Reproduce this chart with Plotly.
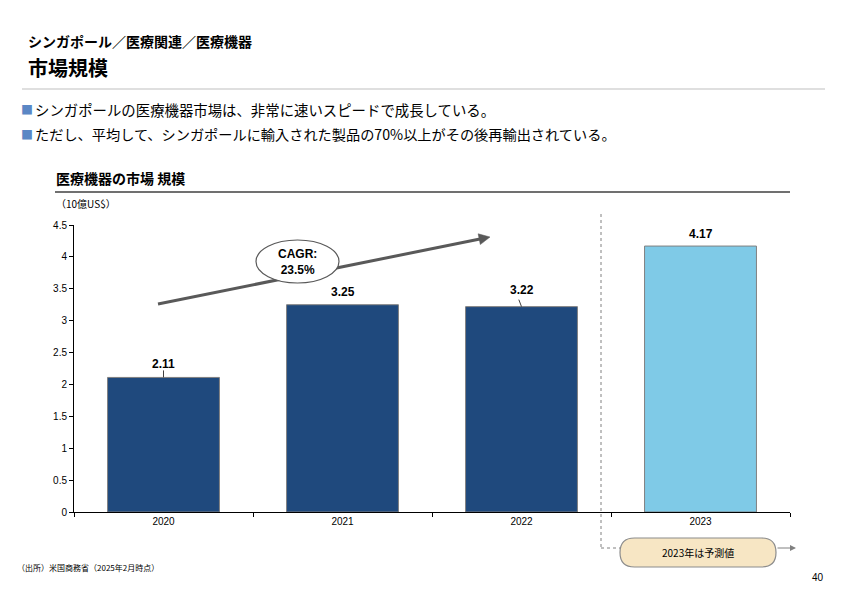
import math
import plotly.graph_objects as go

years = ["2020", "2021", "2022", "2023"]
values = [2.11, 3.25, 3.22, 4.17]
bar_colors = ["#1F497D", "#1F497D", "#1F497D", "#7FCAE7"]
y_ticks = [0, 0.5, 1, 1.5, 2, 2.5, 3, 3.5, 4, 4.5]
cagr_text = "CAGR:<br>23.5%"

W, H = 842, 595
L, R, T, B = 74, 790, 225, 512
FONT = "Liberation Sans, Arial, Noto Sans CJK JP, sans-serif"
JFONT = "Noto Sans CJK JP, Liberation Sans, sans-serif"


def px(x):
    return (x - L) / (R - L)


def py(y):
    return (B - y) / (B - T)


fig = go.Figure()
fig.add_trace(go.Bar(
    x=years, y=values,
    marker=dict(color=bar_colors, line=dict(color="#808080", width=1)),
    width=0.625, hoverinfo="skip",
))

shapes = []
annotations = []

# value labels with short leader lines (x given as category index)
label_shift = [4, 4, 8, 3]
for i, v in enumerate(values):
    annotations.append(dict(
        x=i, y=v, xref="x", yref="y", text=f"<b>{v:.2f}</b>", showarrow=False,
        xanchor="center", yanchor="bottom", yshift=label_shift[i],
        font=dict(family=FONT, size=12, color="black"),
    ))
for i in (0, 2):
    shapes.append(dict(
        type="line", xref="x", yref="y",
        x0=i, y0=values[i], x1=i - (0.015 if i == 2 else 0), y1=values[i] + 0.11,
        line=dict(color="#404040", width=1),
    ))

# header texts
hdr = [
    dict(x=px(26), y=py(41), text="<b>シンガポール／医療関連／医療機器</b>", font=dict(family=JFONT, size=14, color="black")),
    dict(x=px(26), y=py(67), text="<b>市場規模</b>", font=dict(family=JFONT, size=20, color="black")),
    dict(x=px(19), y=py(110), text="■", font=dict(family=JFONT, size=12, color="#5B87C5")),
    dict(x=px(33), y=py(110), text="シンガポールの医療機器市場は、非常に速いスピードで成長している。", font=dict(family=JFONT, size=14.4, color="black")),
    dict(x=px(19), y=py(134), text="■", font=dict(family=JFONT, size=12, color="#5B87C5")),
    dict(x=px(33), y=py(134), text="ただし、平均して、シンガポールに輸入された製品の70%以上がその後再輸出されている。", font=dict(family=JFONT, size=14.2, color="black")),
    dict(x=px(54), y=py(178), text="<b>医療機器の市場 規模</b>", font=dict(family=JFONT, size=14, color="black")),
    dict(x=px(54), y=py(203), text="（10億US$）", font=dict(family=JFONT, size=10, color="black")),
    dict(x=px(15), y=py(567), text="（出所）米国商務省（2025年2月時点）", font=dict(family=JFONT, size=8, color="black")),
]
for a in hdr:
    a.update(xref="paper", yref="paper", xanchor="left", yanchor="middle", showarrow=False)
annotations += hdr
annotations.append(dict(x=px(826), y=py(577), xref="paper", yref="paper", text="40", showarrow=False,
                        xanchor="right", yanchor="middle", font=dict(family=FONT, size=10, color="black")))

# header rules
shapes.append(dict(type="line", xref="paper", yref="paper", x0=px(22), x1=px(825), y0=py(89), y1=py(89),
                   line=dict(color="#BFBFBF", width=1)))
shapes.append(dict(type="line", xref="paper", yref="paper", x0=px(55), x1=px(790), y0=py(192), y1=py(192),
                   line=dict(color="#404040", width=1.5)))

# CAGR arrow (shaft + head as shapes so the ellipse can sit on top)
sx, sy, tx, ty = 158, 304, 490, 237
dx, dy = tx - sx, ty - sy
ln = math.hypot(dx, dy)
ux, uy = dx / ln, dy / ln
nx, ny = -uy, ux
hl, hw = 11, 5.5
bx, by = tx - hl * ux, ty - hl * uy
shapes.append(dict(type="line", xref="paper", yref="paper", x0=px(sx), y0=py(sy), x1=px(bx + 2 * ux), y1=py(by + 2 * uy),
                   line=dict(color="#595959", width=3)))
shapes.append(dict(type="path", xref="paper", yref="paper",
                   path=f"M {px(tx)},{py(ty)} L {px(bx + hw * nx)},{py(by + hw * ny)} L {px(bx - hw * nx)},{py(by - hw * ny)} Z",
                   fillcolor="#595959", line=dict(color="#595959", width=0.5)))
shapes.append(dict(type="circle", xref="paper", yref="paper", x0=px(256), x1=px(339), y0=py(283), y1=py(240),
                   fillcolor="white", line=dict(color="#595959", width=1.2)))
annotations.append(dict(x=px(297.5), y=py(261.5), xref="paper", yref="paper", text=f"<b>{cagr_text}</b>",
                        showarrow=False, xanchor="center", yanchor="middle",
                        font=dict(family=FONT, size=12, color="black")))

# forecast separator
shapes.append(dict(type="line", xref="paper", yref="paper", x0=px(601), x1=px(601), y0=py(214), y1=py(548),
                   line=dict(color="#808080", width=1, dash="dot")))
shapes.append(dict(type="line", xref="paper", yref="paper", x0=px(601), x1=px(621), y0=py(548), y1=py(548),
                   line=dict(color="#808080", width=1, dash="dot")))
annotations.append(dict(x=px(796), y=py(548), xref="paper", yref="paper", ax=776 - 796, ay=0,
                        axref="pixel", ayref="pixel", text="", showarrow=True, arrowhead=2,
                        arrowsize=1.2, arrowwidth=1, arrowcolor="#808080"))

# pill box
x0, x1, y0, y1, r = 620, 776, 538, 567, 14.5
pts = [
    f"M {px(x0 + r)},{py(y0)}",
    f"L {px(x1 - r)},{py(y0)}",
    f"Q {px(x1)},{py(y0)} {px(x1)},{py((y0 + y1) / 2)}",
    f"Q {px(x1)},{py(y1)} {px(x1 - r)},{py(y1)}",
    f"L {px(x0 + r)},{py(y1)}",
    f"Q {px(x0)},{py(y1)} {px(x0)},{py((y0 + y1) / 2)}",
    f"Q {px(x0)},{py(y0)} {px(x0 + r)},{py(y0)} Z",
]
shapes.append(dict(type="path", xref="paper", yref="paper", path=" ".join(pts),
                   fillcolor="#F7E6C4", line=dict(color="#8C8C8C", width=1.2)))
annotations.append(dict(x=px(698), y=py(552), xref="paper", yref="paper", text="2023年は予測値",
                        showarrow=False, xanchor="center", yanchor="middle",
                        font=dict(family=JFONT, size=10, color="black")))

fig.update_layout(
    width=W, height=H,
    margin=dict(l=L, r=W - R, t=T, b=H - B, autoexpand=False),
    plot_bgcolor="white", paper_bgcolor="white",
    showlegend=False,
    shapes=shapes, annotations=annotations,
    xaxis=dict(type="category", categoryorder="array", categoryarray=years, range=[-0.5, len(years) - 0.5],
               showline=True, linecolor="black", linewidth=1, ticks="outside",
               tickson="boundaries", ticklen=4, tickcolor="black", tickangle=0, automargin=False,
               tickfont=dict(family=FONT, size=10, color="black"),
               showgrid=False, fixedrange=True),
    yaxis=dict(range=[0, 4.5], tickvals=y_ticks, ticktext=[f"{t:g}" for t in y_ticks],
               showline=True, linecolor="black", linewidth=1, ticks="outside", ticklen=4,
               tickcolor="black", tickfont=dict(family=FONT, size=10, color="black"), automargin=False,
               showgrid=False, zeroline=False, fixedrange=True),
    bargap=0.375,
)

fig.write_html("out.html", config={"displayModeBar": False},
               post_script="document.body.style.margin='0';document.body.style.padding='0';")
